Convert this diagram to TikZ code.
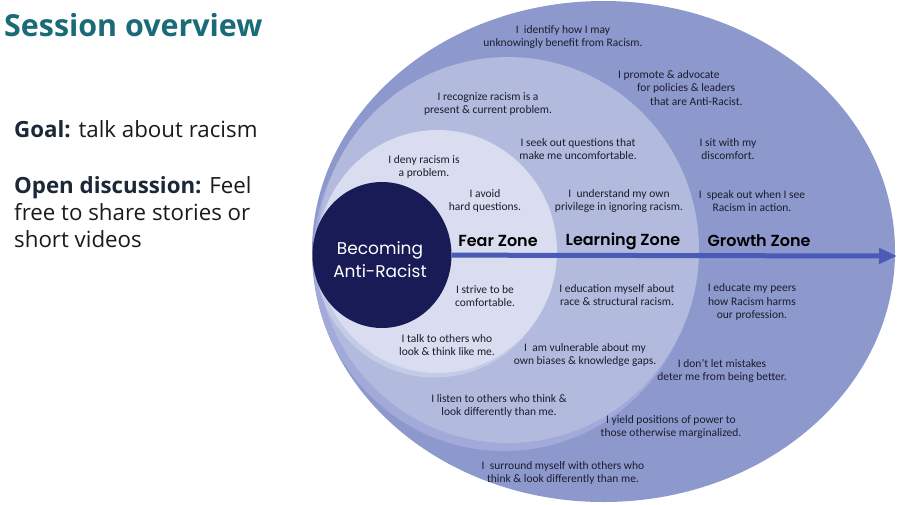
\documentclass[tikz,border=0pt]{standalone}
\usepackage{fontspec}
\setmainfont{Open Sans}
\newfontfamily\calib{Carlito}
\newfontfamily\geo{Poppins}
\newfontfamily\geosemi{Poppins SemiBold}
\usetikzlibrary{positioning, arrows.meta, shapes.geometric}

\definecolor{slideteal}{HTML}{1B6A78}
\definecolor{slideink}{HTML}{1A1A1A}
\definecolor{goalink}{HTML}{1B2838}
\definecolor{growthfill}{HTML}{8D99CD}
\definecolor{shadefill}{HTML}{A1AAD8}
\definecolor{learnfill}{HTML}{B2BADE}
\definecolor{learnshade}{HTML}{C4CBE7}
\definecolor{fearfill}{HTML}{D9DDEF}
\definecolor{corefill}{HTML}{191B57}
\definecolor{arrowblue}{HTML}{4A5BB7}
\definecolor{zoneink}{HTML}{1C1C2C}

\begin{document}
\begin{tikzpicture}[
  x=1pt, y=1pt,
  zone/.style  ={ellipse, draw=none, inner sep=0pt, outer sep=0pt},
  says/.style  ={font=\calib\fontsize{11.5}{13.5}\selectfont, align=center, text=zoneink, inner sep=0pt},
  zonename/.style={font=\geosemi\fontsize{16}{18}\selectfont, text=black, inner sep=0pt},
  body/.style  ={font=\fontsize{22.3}{27}\selectfont, text=slideink, inner sep=0pt, align=left},
  flow/.style  ={-{Triangle[length=18pt, width=15pt]}, line width=5pt, draw=arrowblue},
]
\fill[white] (0,0) rectangle (898,-504);
\useasboundingbox (0,0) rectangle (898,-504);

% ---------- left column ----------
\node[anchor=base west, font=\bfseries\fontsize{30.4}{34}\selectfont, text=slideteal, inner sep=0pt] (title) at (4,-36) {Session overview};
\node[body, anchor=base west] (goal) at (14,-137) {{\bfseries\color{goalink}Goal:} talk about racism};
\node[body, anchor=north west] (open) at (14,-176) {{\bfseries\color{goalink}Open discussion:} Feel\\free to share stories or\\short videos};

% ---------- zones ----------
\node[zone, fill=growthfill, minimum width=583pt, minimum height=501pt] (growth) at (603.5,-251.5) {};
\node[zone, fill=shadefill, minimum width=382pt, minimum height=386pt] (learnshadow) at (504,-258) {};
\node[zone, fill=learnfill, minimum width=382pt, minimum height=386pt] (learning) at (508,-250) {};
\node[zone, fill=learnshade, minimum width=239pt, minimum height=243pt] (fearshadow) at (434.5,-256) {};
\node[zone, fill=fearfill, minimum width=239pt, minimum height=243pt] (fear) at (437.5,-251.5) {};
\node[zone, fill=corefill, minimum width=139pt, minimum height=146pt] (core) at (382,-255) {};
\node[text=white, align=center, inner sep=0pt, font=\geo\fontsize{17}{23}\selectfont] (corelbl) at (380,-260) {Becoming\\Anti-Racist};

% ---------- arrow ----------
\coordinate (tip) at (897,-256);
\draw[flow] (core) -- (tip);

\node[zonename] (fearlbl)   at (498,-241) {Fear Zone};
\node[zonename] (learnlbl)  at (623,-241) {Learning Zone};
\node[zonename] (growthlbl) at (759,-241) {Growth Zone};

% ---------- above the arrow ----------
\node[says] (identify)   at (563,-37)  {I\ \ identify how I may\\unknowingly benefit from Racism.};
\node[says, align=left, anchor=west] (promote) at (618,-88) {I promote \& advocate\\\hspace*{19pt}for policies \& leaders\\\hspace*{32pt}that are Anti-Racist.};
\node[says] (recognize)  at (488,-104) {I recognize racism is a\\present \& current problem.};
\node[says] (seekout)    at (578,-149) {I seek out questions that\\make me uncomfortable.};
\node[says] (sitwith)    at (728,-149) {I sit with my\\discomfort.};
\node[says] (deny)       at (424,-167) {I deny racism is\\a problem.};
\node[says] (avoid)      at (485,-201) {I avoid\\hard questions.};
\node[says] (understand) at (619,-201) {I\ \ understand my own\\privilege in ignoring racism.};
\node[says] (speakout)   at (752,-201) {I\ \ speak out when I see\\Racism in action.};

% ---------- below the arrow ----------
\node[says] (strive)       at (485,-296) {I strive to be\\comfortable.};
\node[says] (educateself)  at (617,-295) {I education myself about\\race \& structural racism.};
\node[says] (educatepeers) at (752,-302) {I educate my peers\\how Racism harms\\our profession.};
\node[says] (talk)         at (447,-345) {I talk to others who\\look \& think like me.};
\node[says] (vulnerable)   at (585,-355) {I\ \ am vulnerable about my\\own biases \& knowledge gaps.};
\node[says] (mistakes)     at (722,-371) {I don’t let mistakes\\deter me from being better.};
\node[says] (listen)       at (499,-406) {I listen to others who think \&\\look differently than me.};
\node[says] (yield)        at (671,-427) {I yield positions of power to\\those otherwise marginalized.};
\node[says] (surround)     at (563,-473) {I\ \ surround myself with others who\\think \& look differently than me.};

\end{tikzpicture}
\end{document}
